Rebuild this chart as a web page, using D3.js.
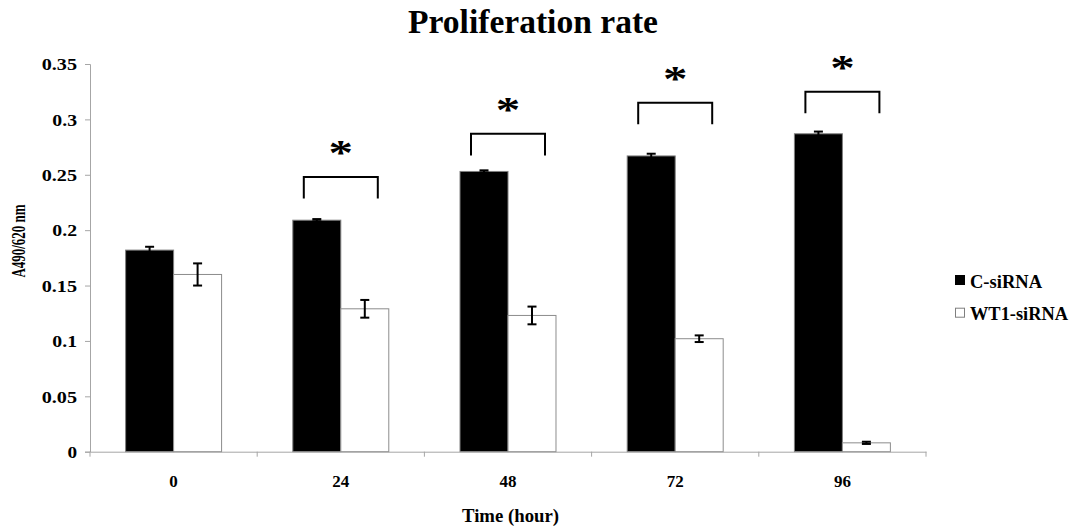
<!DOCTYPE html>
<html>
<head>
<meta charset="utf-8">
<script src="https://cdn.jsdelivr.net/npm/d3@7"></script>
<style>
  body { margin: 0; background: #fff; }
  text { font-family: "Liberation Serif", "Times New Roman", serif; font-weight: bold; fill: #000; }
</style>
</head>
<body>
<div id="chart"></div>
<script>
const times = ['0', '24', '48', '72', '96'];
const seriesNames = ['C-siRNA', 'WT1-siRNA'];
const cValues = [0.182, 0.209, 0.253, 0.267, 0.287];
const cErrors = [0.003, 0.001, 0.001, 0.002, 0.002];
const wtValues = [0.160, 0.129, 0.123, 0.102, 0.008];
const wtErrors = [0.010, 0.008, 0.008, 0.003, 0.001];
const sigTimes = ['24', '48', '72', '96'];
const bracketTops = [0.248, 0.287, 0.315, 0.325];
const yTicks = [0, 0.05, 0.1, 0.15, 0.2, 0.25, 0.3, 0.35];

const width = 1071, height = 528;
const plotLeft = 90, plotRight = 926, plotTop = 64, plotBottom = 451.7;
const serif = '"Liberation Serif", "Times New Roman", serif';

const svg = d3.select('#chart').append('svg')
  .attr('width', width)
  .attr('height', height);

const x = d3.scaleBand().domain(times).range([plotLeft, plotRight]).paddingInner(0).paddingOuter(0);
const y = d3.scaleLinear().domain([0, 0.35]).range([plotBottom, plotTop]);
const barW = x.bandwidth() * 0.287;

// title
svg.append('text')
  .attr('x', 533).attr('y', 33)
  .attr('text-anchor', 'middle')
  .attr('textLength', 250)
  .attr('lengthAdjust', 'spacingAndGlyphs')
  .style('font-size', '33px')
  .text('Proliferation rate');

// y axis
const fmt = d => String(+d.toFixed(2));
const yAxis = svg.append('g')
  .attr('transform', `translate(${plotLeft},0)`)
  .call(d3.axisLeft(y).tickValues(yTicks).tickSize(5).tickPadding(8).tickFormat(fmt));
yAxis.select('.domain').attr('stroke', '#a6a6a6');
yAxis.selectAll('.tick line').attr('stroke', '#a6a6a6');
yAxis.selectAll('text')
  .style('font-size', '16px').style('font-family', serif)
  .attr('dy', '0.36em')
  .attr('textLength', d => {
    const s = fmt(d);
    return s.replace('.', '').length * 10.6 + (s.includes('.') ? 4.5 : 0) - 1;
  })
  .attr('lengthAdjust', 'spacingAndGlyphs');

svg.append('text')
  .attr('transform', `translate(25,241) rotate(-90)`)
  .attr('text-anchor', 'middle')
  .attr('textLength', 73)
  .attr('lengthAdjust', 'spacingAndGlyphs')
  .style('font-size', '19px')
  .text('A490/620 nm');

// bars
const rows = times.map((t, i) => ({ t, c: cValues[i], ce: cErrors[i], w: wtValues[i], we: wtErrors[i] }));
const mid = t => x(t) + x.bandwidth() / 2;

const g = svg.append('g');
g.selectAll('rect.c').data(rows).enter().append('rect')
  .attr('x', d => mid(d.t) - barW)
  .attr('y', d => y(d.c))
  .attr('width', barW)
  .attr('height', d => y(0) - y(d.c))
  .attr('fill', '#000')
  .attr('stroke', '#7f7f7f')
  .attr('stroke-width', 1);
g.selectAll('rect.w').data(rows).enter().append('rect')
  .attr('x', d => mid(d.t))
  .attr('y', d => y(d.w))
  .attr('width', barW)
  .attr('height', d => y(0) - y(d.w))
  .attr('fill', '#fff')
  .attr('stroke', '#8c8c8c')
  .attr('stroke-width', 1);

// x axis
const xAxis = svg.append('g')
  .attr('transform', `translate(0,${plotBottom})`)
  .call(d3.axisBottom(x).tickSize(0).tickPadding(23));
xAxis.select('.domain').attr('stroke', '#a6a6a6');
xAxis.selectAll('text').style('font-size', '17px').style('font-family', serif);
svg.append('g').selectAll('line').data(times.concat(['end'])).enter().append('line')
  .attr('x1', (d, i) => plotLeft + i * x.bandwidth())
  .attr('x2', (d, i) => plotLeft + i * x.bandwidth())
  .attr('y1', plotBottom).attr('y2', plotBottom + 5)
  .attr('stroke', '#a6a6a6');

svg.append('text')
  .attr('x', 510.5).attr('y', 521.5)
  .attr('text-anchor', 'middle')
  .attr('textLength', 97)
  .attr('lengthAdjust', 'spacingAndGlyphs')
  .style('font-size', '19px')
  .text('Time (hour)');

// error bars
const errs = [];
rows.forEach(d => {
  errs.push({ cx: mid(d.t) - barW / 2, v: d.c, e: d.ce });
  errs.push({ cx: mid(d.t) + barW / 2, v: d.w, e: d.we });
});
const eg = svg.append('g').attr('stroke', '#000').attr('stroke-width', 2);
errs.forEach(d => {
  eg.append('line').attr('x1', d.cx).attr('x2', d.cx).attr('y1', y(d.v - d.e)).attr('y2', y(d.v + d.e));
  eg.append('line').attr('x1', d.cx - 4.5).attr('x2', d.cx + 4.5).attr('y1', y(d.v + d.e)).attr('y2', y(d.v + d.e));
  eg.append('line').attr('x1', d.cx - 4.5).attr('x2', d.cx + 4.5).attr('y1', y(d.v - d.e)).attr('y2', y(d.v - d.e));
});

// significance brackets
const legLen = 0.0195;
sigTimes.forEach((t, i) => {
  const cx = mid(t), hw = 37;
  const yt = y(bracketTops[i]), yb = y(bracketTops[i] - legLen);
  svg.append('path')
    .attr('d', `M${cx - hw},${yb}V${yt}H${cx + hw}V${yb}`)
    .attr('fill', 'none')
    .attr('stroke', '#000')
    .attr('stroke-width', 2);
  svg.append('text')
    .attr('transform', `translate(${cx},${yt - 12}) scale(1.4,1)`)
    .attr('text-anchor', 'middle')
    .style('font-size', '35px')
    .text('*');
});

// legend
const legend = svg.append('g').attr('transform', 'translate(955,275)');
const legLens = [72, 98];
seriesNames.forEach((n, i) => {
  legend.append('rect')
    .attr('x', 0.5).attr('y', i * 32.7 + 0.5)
    .attr('width', 9).attr('height', 9)
    .attr('fill', i === 0 ? '#000' : '#fff')
    .attr('stroke', i === 0 ? '#000' : '#7f7f7f');
  legend.append('text')
    .attr('x', 15).attr('y', i * 32.7 + 12.7)
    .attr('textLength', legLens[i])
    .attr('lengthAdjust', 'spacingAndGlyphs')
    .style('font-size', '18px')
    .text(n);
});
</script>
</body>
</html>
